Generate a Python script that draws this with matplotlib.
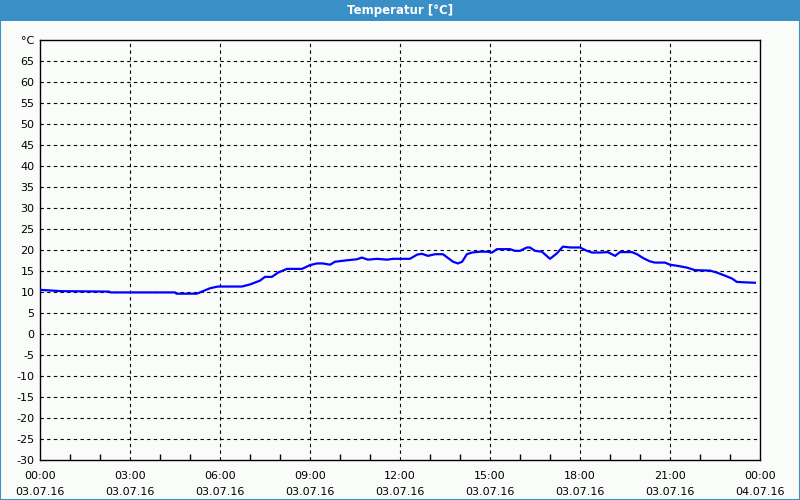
import numpy as np
import matplotlib
matplotlib.use('agg')
import matplotlib.pyplot as plt
from matplotlib.patches import Rectangle

# hours since 03.07.16 00:00 and temperature in degC
hours = [0.03, 0.7, 2.3, 2.35, 4.5, 4.55, 5.23, 5.43, 5.67, 5.93, 6.73, 7.0, 7.33, 7.5,
         7.73, 7.93, 8.23, 8.73, 9.0, 9.23, 9.43, 9.67, 9.83, 10.17, 10.57, 10.73,
         10.93, 11.23, 11.57, 11.77, 12.33, 12.57, 12.73, 12.93, 13.17, 13.43, 13.77,
         13.93, 14.07, 14.23, 14.4, 14.67, 14.9, 15.07, 15.23, 15.67, 15.83, 16.0,
         16.23, 16.33, 16.5, 16.73, 17.0, 17.23, 17.43, 17.67, 18.0, 18.23, 18.4,
         18.67, 18.93, 19.17, 19.33, 19.73, 19.9, 20.1, 20.33, 20.5, 20.83, 21.0,
         21.27, 21.57, 21.83, 22.33, 22.57, 22.83, 23.07, 23.23, 23.5, 23.83]
temps = [10.5, 10.2, 10.1, 9.9, 9.9, 9.6, 9.6, 10.2, 10.9, 11.3, 11.3, 11.8, 12.7, 13.6,
         13.6, 14.6, 15.5, 15.5, 16.4, 16.8, 16.8, 16.5, 17.2, 17.5, 17.8, 18.2,
         17.7, 17.9, 17.7, 17.9, 17.9, 18.9, 19.1, 18.6, 19.0, 19.0, 17.2,
         16.8, 17.2, 19.0, 19.4, 19.6, 19.6, 19.4, 20.2, 20.2, 19.8, 19.8,
         20.6, 20.6, 19.8, 19.6, 17.9, 19.2, 20.8, 20.6, 20.6, 19.8, 19.4,
         19.4, 19.5, 18.6, 19.5, 19.5, 19.0, 18.1, 17.3, 17.0, 17.0, 16.5,
         16.2, 15.8, 15.2, 15.1, 14.6, 13.9, 13.2, 12.4, 12.3, 12.2]

y_ticks = list(range(-30, 70, 5))
x_ticks = list(range(0, 25, 3))
x_labels = ['00:00\n03.07.16', '03:00\n03.07.16', '06:00\n03.07.16', '09:00\n03.07.16',
            '12:00\n03.07.16', '15:00\n03.07.16', '18:00\n03.07.16', '21:00\n03.07.16',
            '00:00\n04.07.16']

bg = '#fafcfa'
blue = '#3a8fc7'

fig = plt.figure(figsize=(8, 5), dpi=100, facecolor=bg)

# title bar and window frame
fig.patches.append(Rectangle((0, 0.958), 1, 0.042, transform=fig.transFigure,
                             facecolor=blue, edgecolor='none', zorder=0))
fig.patches.append(Rectangle((0.0006, 0.001), 0.9988, 0.998, transform=fig.transFigure,
                             facecolor='none', edgecolor=blue, linewidth=1.5, zorder=5))
fig.text(0.5, 0.979, 'Temperatur [°C]', color='white', fontsize=8.5, fontweight='bold',
         ha='center', va='center')

ax = fig.add_axes([0.05, 0.08, 0.90, 0.84])
ax.set_facecolor(bg)
ax.plot(hours, temps, color='#0000ff', linewidth=1.6, zorder=3)

ax.set_xlim(0, 24)
ax.set_ylim(-30, 70)

ax.set_yticks(y_ticks + [70])
ax.set_yticklabels([str(v) for v in y_ticks] + ['°C'])
ax.set_xticks(x_ticks)
ax.set_xticklabels(x_labels, linespacing=1.75)
ax.set_xticks(range(0, 25), minor=True)

ax.tick_params(axis='y', length=0, pad=4, labelsize=8)
ax.tick_params(axis='x', which='major', length=0, pad=8, labelsize=8)
ax.tick_params(axis='x', which='minor', direction='in', length=4, width=1, color='black')

for v in y_ticks[1:]:
    ax.axhline(v, color='black', linewidth=0.8, linestyle=(0, (3, 3)), zorder=1)
for h in x_ticks[1:-1]:
    ax.axvline(h, color='black', linewidth=0.8, linestyle=(0, (3, 3)), zorder=1)

for s in ax.spines.values():
    s.set_linewidth(1.0)
    s.set_color('black')

fig.savefig('out.png', dpi=100, facecolor=bg)
